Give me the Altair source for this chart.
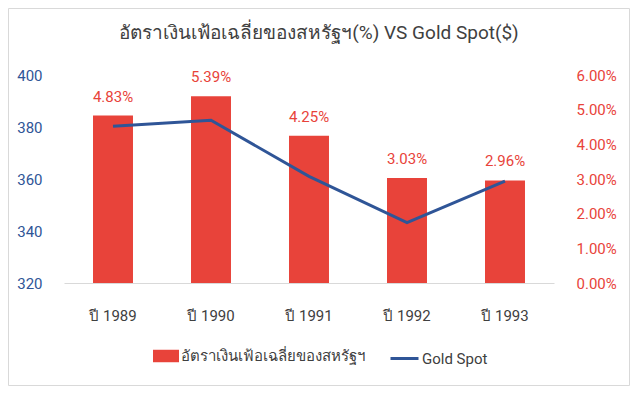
import altair as alt
import pandas as pd

years = ["ปี 1989", "ปี 1990", "ปี 1991", "ปี 1992", "ปี 1993"]
inflation = [0.0483, 0.0539, 0.0425, 0.0303, 0.0296]
gold_spot = [380.3, 382.6, 361.0, 343.2, 359.2]
bar_name = "อัตราเงินเฟ้อเฉลี่ยของสหรัฐฯ"
line_name = "Gold Spot"
title_text = "อัตราเงินเฟ้อเฉลี่ยของสหรัฐฯ(%) VS Gold Spot($)"

RED = "#E8433A"
BLUE = "#2F5597"
GRAY = "#404040"
FONT = "Roboto"

df = pd.DataFrame({
    "year": years,
    "infl": inflation,
    "gold": gold_spot,
    "bar_s": [bar_name] * len(years),
    "line_s": [line_name] * len(years),
})

x_enc = alt.X(
    "year:N", sort=years, title=None,
    scale=alt.Scale(paddingInner=0.592, paddingOuter=0.296),
    axis=alt.Axis(labelAngle=0, ticks=False, domainColor="#D9D9D9", domainWidth=1,
                  labelPadding=25, labelFontSize=15, labelColor=GRAY, labelFont=FONT),
)

y_infl = alt.Y(
    "infl:Q", title=None,
    scale=alt.Scale(domain=[0, 0.06], nice=False),
    axis=alt.Axis(orient="right", format=".2%", values=[0, 0.01, 0.02, 0.03, 0.04, 0.05, 0.06],
                  ticks=False, domain=False, grid=False, labelPadding=22, labelOverlap=False,
                  labelFontSize=15, labelColor=RED, labelFont=FONT, labelAlign="left"),
)

y_gold = alt.Y(
    "gold:Q", title=None,
    scale=alt.Scale(domain=[320, 400], nice=False, zero=False),
    axis=alt.Axis(orient="left", values=[320, 340, 360, 380, 400],
                  ticks=False, domain=False, grid=False, labelPadding=22, labelOverlap=False,
                  labelFontSize=15, labelColor=BLUE, labelFont=FONT),
)

base = alt.Chart(df)

bars = base.mark_bar(color=RED).encode(
    x=x_enc,
    y=y_infl,
    fill=alt.Fill("bar_s:N", scale=alt.Scale(domain=[bar_name], range=[RED]),
                  legend=alt.Legend(title=None, orient="none", legendX=89, legendY=268,
                                    symbolType="M-1,-0.48H1V0.48H-1Z", symbolSize=676,
                                    symbolStrokeWidth=0, labelOffset=2, labelLimit=400,
                                    labelFontSize=15, labelColor=GRAY, labelFont=FONT)),
)

labels = base.mark_text(color=RED, fontSize=15, font=FONT, dy=-19).encode(
    x=x_enc,
    y=y_infl,
    text=alt.Text("infl:Q", format=".2%"),
)

line = base.mark_line(strokeWidth=3).encode(
    x=x_enc,
    y=y_gold,
    stroke=alt.Stroke("line_s:N", scale=alt.Scale(domain=[line_name], range=[BLUE]),
                      legend=alt.Legend(title=None, orient="none", legendX=325, legendY=268,
                                        symbolType="stroke", symbolSize=784, symbolStrokeWidth=3,
                                        labelOffset=2, labelLimit=400,
                                        labelFontSize=15, labelColor=GRAY, labelFont=FONT)),
)

# Outer frame drawn as four rules (pixel offsets relative to the plot area)
frame_df = pd.DataFrame({"b": [1]})
frame_style = dict(color="#D9D9D9", strokeWidth=1, clip=False)
FL, FR, FT, FB = -55.5, 565.5, -66.5, 310.5
top_rule = alt.Chart(frame_df).mark_rule(**frame_style).encode(
    x=alt.value(FL), x2=alt.value(FR), y=alt.value(FT))
bottom_rule = alt.Chart(frame_df).mark_rule(**frame_style).encode(
    x=alt.value(FL), x2=alt.value(FR), y=alt.value(FB))
left_rule = alt.Chart(frame_df).mark_rule(**frame_style).encode(
    x=alt.value(FL), y=alt.value(FT), y2=alt.value(FB))
right_rule = alt.Chart(frame_df).mark_rule(**frame_style).encode(
    x=alt.value(FR), y=alt.value(FT), y2=alt.value(FB))

chart = alt.layer(
    alt.layer(bars, labels), line, top_rule, bottom_rule, left_rule, right_rule
).resolve_scale(
    y="independent"
).properties(
    width=490, height=208,
    padding={"left": 56, "top": 67, "right": 76, "bottom": 103},
    autosize=alt.AutoSizeParams(type="none"),
    title=alt.TitleParams(title_text, fontSize=19, font=FONT, fontWeight="normal",
                          color=GRAY, offset=-34.5, dx=10),
).configure(background="white").configure_view(stroke=None)

chart.save("out.html", embed_options={"renderer": "svg", "actions": False})
